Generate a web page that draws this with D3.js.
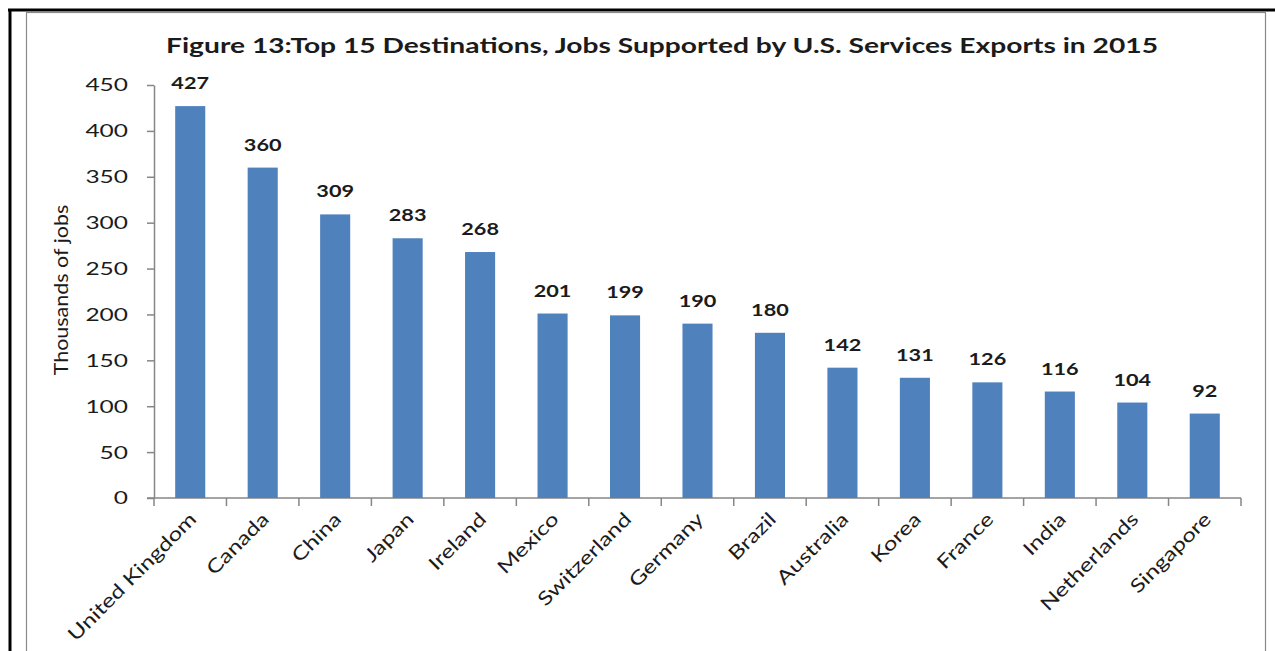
<!DOCTYPE html>
<html>
<head>
<meta charset="utf-8">
<script src="https://cdn.jsdelivr.net/npm/d3@7"></script>
<style>
  html, body { margin: 0; padding: 0; background: #fff; }
  svg { display: block; }
  text { font-family: Lato, "Open Sans", sans-serif; fill: #1b1b1b; }
</style>
</head>
<body>
<svg id="chart" width="1275" height="651"></svg>
<script>
const categories = ["United Kingdom","Canada","China","Japan","Ireland","Mexico","Switzerland","Germany","Brazil","Australia","Korea","France","India","Netherlands","Singapore"];
const values = [427,360,309,283,268,201,199,190,180,142,131,126,116,104,92];
const yTicks = [0,50,100,150,200,250,300,350,400,450];
const titleText = "Figure 13:Top 15 Destinations, Jobs Supported by U.S. Services Exports in 2015";
const yLabel = "Thousands of jobs";

const svg = d3.select("#chart");
const H = 651;

// Frame
svg.append("line").attr("x1", 8).attr("x2", 1275).attr("y1", 10).attr("y2", 10).attr("stroke", "#000").attr("stroke-width", 3);
svg.append("line").attr("x1", 10).attr("x2", 10).attr("y1", 9).attr("y2", H).attr("stroke", "#000").attr("stroke-width", 3);
svg.append("rect").attr("x", 26.5).attr("y", 12.5).attr("width", 1239).attr("height", 650).attr("fill", "none").attr("stroke", "#8a8a8a").attr("stroke-width", 1.2);

const x = d3.scaleBand().domain(categories).range([154, 1241]).padding(0);
const y = d3.scaleLinear().domain([0, 450]).range([498, 85]);

// Title
svg.append("text").attr("x", 662).attr("y", 53).attr("text-anchor", "middle")
  .attr("font-size", 20.5).attr("font-weight", "bold").attr("textLength", 992).attr("lengthAdjust", "spacingAndGlyphs")
  .text(titleText);

// Y axis
const yAxis = d3.axisLeft(y).tickValues(yTicks).tickSize(7).tickFormat("").tickSizeOuter(0);
const gy = svg.append("g").attr("transform", "translate(154,0)").call(yAxis);
gy.select(".domain").attr("stroke", "#868686").attr("stroke-width", 1.5);
gy.selectAll(".tick line").attr("stroke", "#868686").attr("stroke-width", 1.5);
gy.selectAll(".tick text").remove();
svg.selectAll(".ytl").data(yTicks).enter().append("text")
  .attr("transform", t => `translate(128,${y(t)}) scale(1.36,1)`)
  .attr("text-anchor", "end").attr("dy", "0.36em").attr("font-size", 18)
  .text(t => t);

// X axis: ticks at category boundaries
const bounds = categories.map(c => x(c)).concat([x.range()[1]]);
svg.append("line").attr("x1", 147).attr("x2", 1241).attr("y1", y(0)).attr("y2", y(0)).attr("stroke", "#868686").attr("stroke-width", 1.5);
svg.selectAll(".xtick").data(bounds).enter().append("line")
  .attr("x1", d => d).attr("x2", d => d).attr("y1", y(0)).attr("y2", y(0) + 8)
  .attr("stroke", "#868686").attr("stroke-width", 1.5);

// Bars
const barW = x.bandwidth() * 0.415;
svg.selectAll(".bar").data(values).enter().append("rect")
  .attr("x", (d, i) => x(categories[i]) + (x.bandwidth() - barW) / 2)
  .attr("y", d => y(d))
  .attr("width", barW)
  .attr("height", d => y(0) - y(d))
  .attr("fill", "#4f81bd");

// Value labels
svg.selectAll(".val").data(values).enter().append("text")
  .attr("transform", (d, i) => `translate(${x(categories[i]) + x.bandwidth() / 2},${y(d) - 17}) scale(1.24,1)`)
  .attr("text-anchor", "middle").attr("font-size", 17.5).attr("font-weight", "bold")
  .text(d => d);

// X labels
svg.selectAll(".xl").data(categories).enter().append("text")
  .attr("transform", c => `translate(${x(c) + x.bandwidth() / 2 - 2},${511}) rotate(-45) scale(1.27,1)`)
  .attr("text-anchor", "end").attr("dy", "0.7em").attr("font-size", 19)
  .text(c => c);

// Y label
svg.append("text").attr("transform", "translate(68,290) rotate(-90) scale(1.13,1)").attr("text-anchor", "middle")
  .attr("font-size", 19).text(yLabel);
</script>
</body>
</html>
